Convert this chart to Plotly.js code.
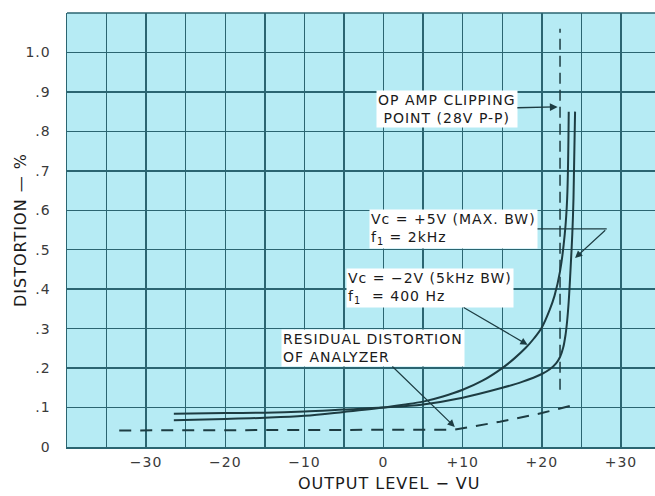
<!DOCTYPE html>
<html>
<head>
<meta charset="utf-8">
<script src="https://cdn.plot.ly/plotly-3.0.1.min.js"></script>
<style>
  html, body { margin: 0; padding: 0; background: #ffffff; }
  #chart { width: 655px; height: 496px; }
  .annotation-text { letter-spacing: 1px; }
  .xtick text, .ytick text { letter-spacing: 1px; }
</style>
</head>
<body>
<div id="chart"></div>
<script>
// ---- data ----
// Vc = -2V (5kHz BW), f1 = 400 Hz  (curve that rises first)
const minus2X = [-26.5, -20, -15, -10, -5, 0, 2.5, 5, 7.5, 10, 12.5, 15, 16.5, 18, 19, 20, 21, 21.6, 22.3, 22.9, 23.2, 23.4];
const minus2Y = [0.068, 0.071, 0.074, 0.079, 0.089, 0.100, 0.107, 0.115, 0.128, 0.145, 0.168, 0.200, 0.224, 0.252, 0.275, 0.303, 0.348, 0.383, 0.445, 0.540, 0.630, 0.850];

// Vc = +5V (MAX BW), f1 = 2kHz
const plus5X = [-26.5, -20, -15, -10, -5, 0, 5, 10, 15, 17.5, 20, 21, 21.8, 22.3, 22.7, 23.0, 23.2, 23.4, 23.6, 23.85, 24.0, 24.2];
const plus5Y = [0.084, 0.086, 0.087, 0.090, 0.095, 0.100, 0.108, 0.125, 0.150, 0.165, 0.185, 0.197, 0.212, 0.228, 0.252, 0.285, 0.320, 0.370, 0.440, 0.540, 0.630, 0.850];

// Residual distortion of analyzer (dashed)
const residualX = [-33.4, 9, 14.7, 20, 24.3];
const residualY = [0.042, 0.044, 0.064, 0.086, 0.108];

// Op amp clipping point (dashed vertical)
const clipX = [22.3, 22.3];
const clipY = [0.145, 1.06];

// ticks
const xTickVals = [-30, -20, -10, 0, 10, 20, 30];
const xTickText = ["\u221230", "\u221220", "\u221210", "0", "+10", "+20", "+30"];
const yTickVals = [0, 0.1, 0.2, 0.3, 0.4, 0.5, 0.6, 0.7, 0.8, 0.9, 1.0];
const yTickText = ["0", ".1", ".2", ".3", ".4", ".5", ".6", ".7", ".8", ".9", "1.0"];

// ---- styling ----
const ink = "#1d3c42";
const gridCol = "#2b6571";
const bg = "#b6ebf4";
const font = "DejaVu Sans, sans-serif";

const traces = [
  { x: minus2X, y: minus2Y, mode: "lines", name: "Vc = -2V", line: { color: ink, width: 2, shape: "spline", smoothing: 1 } },
  { x: plus5X, y: plus5Y, mode: "lines", name: "Vc = +5V", line: { color: ink, width: 2, shape: "spline", smoothing: 1 } },
  { x: residualX, y: residualY, mode: "lines", name: "Residual", line: { color: ink, width: 2, dash: "12px,9px" } },
  { x: clipX, y: clipY, mode: "lines", name: "Clipping", line: { color: ink, width: 1.5, dash: "11px,6px" } }
];

const annFont = { family: font, size: 14, color: "#1a1a1a" };

const layout = {
  width: 655, height: 496,
  margin: { l: 67, r: 0, t: 13, b: 49 },
  paper_bgcolor: "#ffffff",
  plot_bgcolor: bg,
  showlegend: false,
  font: { family: font, size: 14, color: "#3a3a3a" },
  xaxis: {
    range: [-40, 34.3],
    tickmode: "array", tickvals: xTickVals, ticktext: xTickText,
    showgrid: true, gridcolor: gridCol, gridwidth: 1.5,
    minor: { tickmode: "linear", tick0: -40, dtick: 5, showgrid: true, gridcolor: gridCol, gridwidth: 1.5, ticks: "" },
    zeroline: false, showline: true, linecolor: gridCol, linewidth: 1.5,
    ticks: "", ticklabelstandoff: 2,
    tickfont: { family: font, size: 14, color: "#3a3a3a" },
    fixedrange: true
  },
  yaxis: {
    range: [0, 1.1],
    tickmode: "array", tickvals: yTickVals, ticktext: yTickText,
    showgrid: true, gridcolor: gridCol, gridwidth: 1.5,
    zeroline: false, showline: true, linecolor: gridCol, linewidth: 1.5,
    ticks: "", ticklabelstandoff: 12,
    tickfont: { family: font, size: 14, color: "#3a3a3a" },
    fixedrange: true
  },
  shapes: [
    // top border of the grid
    { type: "line", xref: "paper", yref: "paper", x0: 0, y0: 1, x1: 1, y1: 1, line: { color: gridCol, width: 1.5 } },
    // leader line from the +5V label
    { type: "line", xref: "x", yref: "y", x0: 18.6, y0: 0.553, x1: 28.2, y1: 0.553, line: { color: ink, width: 1.2 } }
  ],
  annotations: [
    { xref: "paper", yref: "paper", x: 0.548, y: -0.085, xanchor: "center", yanchor: "middle", showarrow: false,
      text: "OUTPUT LEVEL \u2212 VU", font: { family: font, size: 16, color: "#1a1a1a" } },
    { xref: "paper", yref: "paper", x: -0.08, y: 0.5, xanchor: "center", yanchor: "middle", showarrow: false, textangle: -90,
      text: "DISTORTION \u2014 %", font: { family: font, size: 16, color: "#1a1a1a" } },
    { xref: "x", yref: "y", x: 22.0, y: 0.862, ax: 8.0, ay: 0.856, axref: "x", ayref: "y",
      showarrow: true, arrowhead: 2, arrowsize: 1.2, arrowwidth: 1.3, arrowcolor: ink, align: "center",
      text: "OP AMP CLIPPING<br>POINT (28V P-P)", font: annFont, bgcolor: "#ffffff", borderpad: 1 },
    { xref: "x", yref: "y", x: -1.8, y: 0.553, xanchor: "left", yanchor: "middle", showarrow: false, align: "left",
      text: "Vc = +5V (MAX. BW)<br>f<sub>1</sub> = 2kHz", font: annFont, bgcolor: "#ffffff", borderpad: 1 },
    { xref: "x", yref: "y", x: 24.2, y: 0.479, ax: 28.2, ay: 0.553, axref: "x", ayref: "y",
      showarrow: true, arrowhead: 2, arrowsize: 1.2, arrowwidth: 1.2, arrowcolor: ink, text: "" },
    { xref: "x", yref: "y", x: 18.2, y: 0.259, ax: 5.9, ay: 0.403, axref: "x", ayref: "y",
      showarrow: true, arrowhead: 2, arrowsize: 1.2, arrowwidth: 1.2, arrowcolor: ink, align: "left",
      text: "Vc = \u22122V (5kHz BW)<br>f<sub>1</sub>  = 400 Hz", font: annFont, bgcolor: "#ffffff", borderpad: 1 },
    { xref: "x", yref: "y", x: 9.0, y: 0.051, ax: -1.3, ay: 0.251, axref: "x", ayref: "y",
      showarrow: true, arrowhead: 2, arrowsize: 1.2, arrowwidth: 1.2, arrowcolor: ink, align: "left",
      text: "RESIDUAL DISTORTION<br>OF ANALYZER", font: annFont, bgcolor: "#ffffff", borderpad: 1 }
  ]
};

Plotly.newPlot("chart", traces, layout, { displayModeBar: false, staticPlot: true });
</script>
</body>
</html>
